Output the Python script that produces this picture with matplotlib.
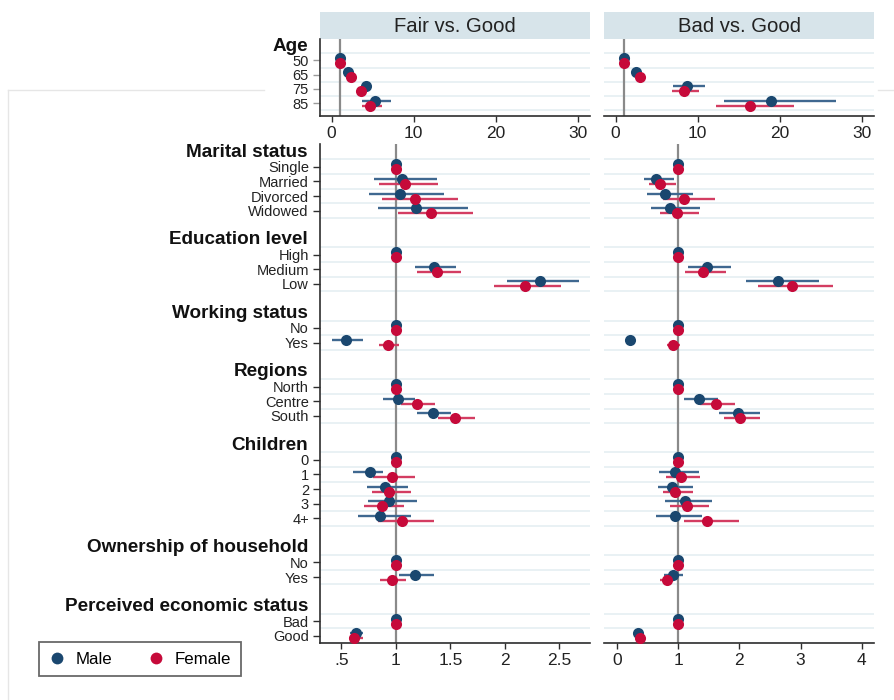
import numpy as np
import matplotlib
matplotlib.use("Agg")
import matplotlib.pyplot as plt
from matplotlib.lines import Line2D
from matplotlib.transforms import offset_copy

plt.rcParams['font.family'] = ['Liberation Sans', 'DejaVu Sans']

nan = np.nan

# ---------------- data ----------------
panel_titles = ["Fair vs. Good", "Bad vs. Good"]
series_names = ["Male", "Female"]

# Top block: Age
age_header = "Age"
age_labels = ["50", "65", "75", "85"]
fair_age_m = [1.0, 2.03, 4.15, 5.25]
fair_age_m_lo = [nan, 1.75, 3.8, 3.74]
fair_age_m_hi = [nan, 2.35, 4.5, 7.2]
fair_age_f = [1.0, 2.32, 3.62, 4.68]
fair_age_f_lo = [nan, 2.0, 3.25, 3.74]
fair_age_f_hi = [nan, 2.65, 4.0, 6.19]
bad_age_m = [1.0, 2.52, 8.75, 18.93]
bad_age_m_lo = [nan, 2.15, 7.04, 13.22]
bad_age_m_hi = [nan, 2.9, 10.87, 26.86]
bad_age_f = [1.0, 2.97, 8.34, 16.36]
bad_age_f_lo = [nan, 2.55, 6.84, 12.21]
bad_age_f_hi = [nan, 3.4, 10.17, 21.7]

# Bottom block
groups = ["Marital status", "Education level", "Working status", "Regions",
          "Children", "Ownership of household", "Perceived economic status"]
group_items = [["Single", "Married", "Divorced", "Widowed"],
               ["High", "Medium", "Low"],
               ["No", "Yes"],
               ["North", "Centre", "South"],
               ["0", "1", "2", "3", "4+"],
               ["No", "Yes"],
               ["Bad", "Good"]]

fair_m = [1, 1.055, 1.04, 1.183, 1, 1.351, 2.318, 1, 0.544, 1, 1.018, 1.345,
          1, 0.764, 0.902, 0.939, 0.856, 1, 1.18, 1, 0.633]
fair_m_lo = [nan, 0.80, 0.75, 0.84, nan, 1.177, 2.018, nan, 0.418, nan, 0.881, 1.193,
             nan, 0.605, 0.734, 0.749, 0.651, nan, 1.027, nan, 0.58]
fair_m_hi = [nan, 1.376, 1.446, 1.666, nan, 1.553, 2.676, nan, 0.703, nan, 1.177, 1.505,
             nan, 0.886, 1.116, 1.193, 1.138, nan, 1.354, nan, 0.70]
fair_f = [1, 1.085, 1.177, 1.318, 1, 1.376, 2.186, 1, 0.932, 1, 1.193, 1.547,
          1, 0.966, 0.941, 0.877, 1.058, 1, 0.969, 1, 0.617]
fair_f_lo = [nan, 0.85, 0.877, 1.02, nan, 1.193, 1.902, nan, 0.847, nan, 1.049, 1.39,
             nan, 0.794, 0.78, 0.709, 0.835, nan, 0.856, nan, 0.569]
fair_f_hi = [nan, 1.39, 1.574, 1.706, nan, 1.596, 2.514, nan, 1.033, nan, 1.36, 1.73,
             nan, 1.177, 1.138, 1.079, 1.351, nan, 1.094, nan, 0.697]

bad_m = [1, 0.637, 0.779, 0.86, 1, 1.469, 2.64, 1, 0.207, 1, 1.345, 1.976,
         1, 0.942, 0.898, 1.105, 0.942, 1, 0.909, 1, 0.338]
bad_m_lo = [nan, 0.436, 0.49, 0.555, nan, 1.159, 2.113, nan, 0.18, nan, 1.089, 1.671,
            nan, 0.681, 0.664, 0.79, 0.643, nan, 0.762, nan, 0.30]
bad_m_hi = [nan, 0.926, 1.241, 1.361, nan, 1.868, 3.304, nan, 0.24, nan, 1.649, 2.346,
            nan, 1.334, 1.241, 1.551, 1.388, nan, 1.078, nan, 0.38]
bad_f = [1, 0.708, 1.094, 0.975, 1, 1.404, 2.857, 1, 0.909, 1, 1.617, 2.014,
         1, 1.04, 0.953, 1.138, 1.469, 1, 0.816, 1, 0.381]
bad_f_lo = [nan, 0.518, 0.751, 0.708, nan, 1.105, 2.302, nan, 0.816, nan, 1.35, 1.742,
            nan, 0.806, 0.746, 0.872, 1.089, nan, 0.708, nan, 0.34]
bad_f_hi = [nan, 0.963, 1.606, 1.345, nan, 1.786, 3.538, nan, 1.035, nan, 1.933, 2.346,
            nan, 1.361, 1.241, 1.497, 1.987, nan, 0.926, nan, 0.42]

top_xticks = [0, 10, 20, 30]
top_xticklabels = ["0", "10", "20", "30"]
fair_xticks = [0.5, 1, 1.5, 2, 2.5]
fair_xticklabels = [".5", "1", "1.5", "2", "2.5"]
bad_xticks = [0, 1, 2, 3, 4]
bad_xticklabels = ["0", "1", "2", "3", "4"]

# ---------------- style ----------------
W, H = 894, 700
MALE = "#1a476f"
FEMALE = "#c60a3a"
MALE_CI = "#3f6890"
FEMALE_CI = "#d33d62"
GRID = "#e9f1f4"
STRIP = "#d7e4ea"
AXC = "#2e2e2e"
REF = "#8a8a8a"
MS = 8.0

fig = plt.figure(figsize=(W / 100, H / 100), dpi=100)
fig.patch.set_facecolor("white")


def rect(x0, y0, x1, y1):
    return [x0 / W, 1 - y1 / H, (x1 - x0) / W, (y1 - y0) / H]


# faint background frame (screenshot border)
fig.add_artist(Line2D([8 / W, 8 / W], [0, 1 - 90 / H], color="#e6e6e6", lw=1.0, zorder=-5))
fig.add_artist(Line2D([8 / W, 264 / W], [1 - 90 / H, 1 - 90 / H], color="#e6e6e6", lw=1.0, zorder=-5))
fig.add_artist(Line2D([878 / W, 1.0], [1 - 90 / H, 1 - 90 / H], color="#e6e6e6", lw=1.0, zorder=-5))

OFF = 0.17


def draw_series(ax, rows, est, lo, hi, off, col, cicol):
    y = np.asarray(rows, dtype=float) + off
    lo = np.asarray(lo, dtype=float)
    hi = np.asarray(hi, dtype=float)
    m = ~np.isnan(lo)
    ax.hlines(y[m], lo[m], hi[m], color=cicol, lw=1.7, zorder=3)
    ax.plot(est, y, "o", ms=MS, color=col, mec=col, mew=0, zorder=4, ls="none")


def style_axes(ax, left_spine):
    for s in ["top", "right"]:
        ax.spines[s].set_visible(False)
    ax.spines["bottom"].set_color(AXC)
    ax.spines["bottom"].set_linewidth(1.2)
    if left_spine:
        ax.spines["left"].set_color(AXC)
        ax.spines["left"].set_linewidth(1.2)
    else:
        ax.spines["left"].set_visible(False)
    ax.tick_params(axis="x", length=4, width=1.0, color=AXC, labelsize=12.5,
                   pad=3, labelcolor="#222222")
    ax.tick_params(axis="y", length=5, width=1.0, color=AXC, labelsize=10.5,
                   pad=3, labelcolor="#222222")


def header(ax, y, text):
    tr = offset_copy(ax.get_yaxis_transform(), fig=fig, x=-12, y=0, units="dots")
    ax.text(0, y, text, transform=tr, ha="right", va="center",
            fontsize=13.6, fontweight="bold", color="#111111")


# ---------------- top panels (Age) ----------------
age_rows = np.arange(len(age_labels))
age_header_row = -1
top_rects = [rect(320, 39, 590, 116), rect(604, 39, 874, 116)]
strip_rects = [rect(320, 12, 590, 39), rect(604, 12, 874, 39)]
top_data = [
    (fair_age_m, fair_age_m_lo, fair_age_m_hi, fair_age_f, fair_age_f_lo, fair_age_f_hi),
    (bad_age_m, bad_age_m_lo, bad_age_m_hi, bad_age_f, bad_age_f_lo, bad_age_f_hi),
]

for i in range(2):
    sax = fig.add_axes(strip_rects[i])
    sax.set_facecolor(STRIP)
    sax.set_xticks([])
    sax.set_yticks([])
    for s in sax.spines.values():
        s.set_visible(False)
    sax.text(0.5, 0.48, panel_titles[i], ha="center", va="center",
             fontsize=14.6, color="#222222", transform=sax.transAxes)

    ax = fig.add_axes(top_rects[i])
    style_axes(ax, left_spine=(i == 0))
    ax.set_xlim(-1.4, 31.45)
    ax.set_ylim(3.9, -1.5)
    for b in np.arange(-0.5, len(age_labels), 1.0):
        ax.axhline(b, color=GRID, lw=1.4, zorder=1)
    ax.axvline(1, color=REF, lw=1.6, zorder=2)
    mm, mlo, mhi, ff, flo, fhi = top_data[i]
    draw_series(ax, age_rows, mm, mlo, mhi, -OFF, MALE, MALE_CI)
    draw_series(ax, age_rows, ff, flo, fhi, OFF, FEMALE, FEMALE_CI)
    ax.set_xticks(top_xticks)
    ax.set_xticklabels(top_xticklabels)
    if i == 0:
        ax.set_yticks(age_rows)
        ax.set_yticklabels(age_labels)
        ax.tick_params(axis="y", color="#9a9a9a")
        header(ax, age_header_row, age_header)
    else:
        ax.set_yticks([])

# ---------------- bottom panels ----------------
header_rows = []
item_rows = []
item_labels = []
bounds = []
pos = 0
for g, items in zip(groups, group_items):
    header_rows.append(pos)
    rows_g = list(range(pos + 1, pos + 1 + len(items)))
    item_rows.extend(rows_g)
    item_labels.extend(items)
    bounds.extend(np.arange(rows_g[0] - 0.5, rows_g[-1] + 1.0, 1.0))
    pos += len(items) + 2
item_rows = np.array(item_rows)
last_row = item_rows[-1]

bot_rects = [rect(320, 144, 590, 643), rect(604, 144, 874, 643)]
bot_data = [
    (fair_m, fair_m_lo, fair_m_hi, fair_f, fair_f_lo, fair_f_hi),
    (bad_m, bad_m_lo, bad_m_hi, bad_f, bad_f_lo, bad_f_hi),
]
bot_xlims = [(0.305, 2.78), (-0.21, 4.2)]
bot_ticks = [(fair_xticks, fair_xticklabels), (bad_xticks, bad_xticklabels)]

for i in range(2):
    ax = fig.add_axes(bot_rects[i])
    style_axes(ax, left_spine=(i == 0))
    ax.set_xlim(*bot_xlims[i])
    ax.set_ylim(last_row + 0.5, -0.55)
    for b in bounds:
        ax.axhline(b, color=GRID, lw=1.4, zorder=1)
    ax.axvline(1, color=REF, lw=1.6, zorder=2)
    mm, mlo, mhi, ff, flo, fhi = bot_data[i]
    draw_series(ax, item_rows, mm, mlo, mhi, -OFF, MALE, MALE_CI)
    draw_series(ax, item_rows, ff, flo, fhi, OFF, FEMALE, FEMALE_CI)
    ax.set_xticks(bot_ticks[i][0])
    ax.set_xticklabels(bot_ticks[i][1])
    if i == 0:
        ax.set_yticks(item_rows)
        ax.set_yticklabels(item_labels)
        for hr, g in zip(header_rows, groups):
            header(ax, hr, g)
    else:
        ax.set_yticks([])

# ---------------- legend ----------------
handles = [Line2D([], [], marker="o", ls="none", ms=8.5, color=MALE, mew=0),
           Line2D([], [], marker="o", ls="none", ms=8.5, color=FEMALE, mew=0)]
leg = fig.legend(handles, series_names, ncol=2, loc="lower left",
                 bbox_to_anchor=(39 / W, 1 - 676 / H), frameon=True, fancybox=False,
                 edgecolor="#444444", fontsize=12.2, handlelength=1.0,
                 handletextpad=0.6, columnspacing=2.1, borderpad=0.55,
                 borderaxespad=0)
leg.get_frame().set_linewidth(1.3)

fig.savefig("out.png", dpi=100, facecolor="white")
